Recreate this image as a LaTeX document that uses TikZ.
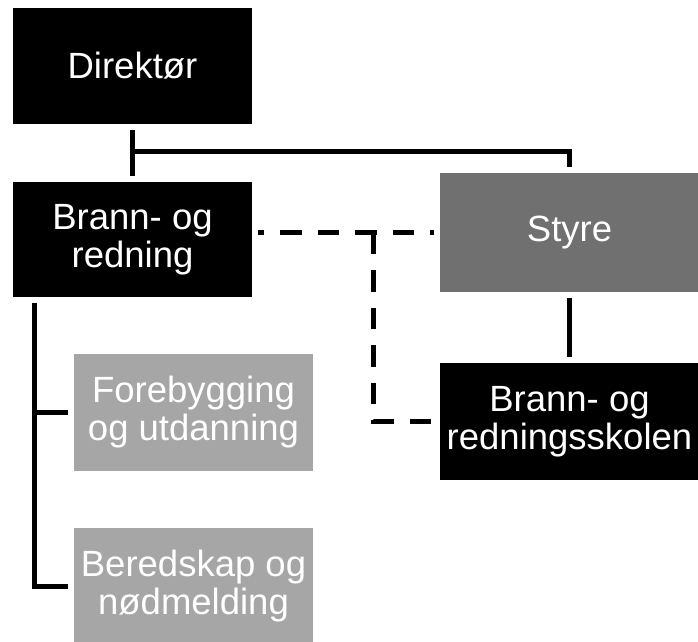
\documentclass[tikz,border=0pt]{standalone}
\usepackage{fontspec}
\setmainfont{Liberation Sans}
\usetikzlibrary{calc}
\definecolor{darkgraybox}{RGB}{112,112,112}
\definecolor{lightgraybox}{RGB}{166,166,166}
\begin{document}
\begin{tikzpicture}[x=1pt,y=-1pt,
  box/.style={rectangle, inner sep=0pt, outer sep=6pt, text=white, align=center,
    font=\fontsize{36.5}{38}\selectfont},
  blackbox/.style={box, fill=black},
  midbox/.style={box, fill=darkgraybox},
  lightbox/.style={box, fill=lightgraybox},
  conn/.style={line width=5pt, black},
  dconn/.style={conn, dash pattern=on 21.5pt off 16pt}
]
\useasboundingbox (0,0) rectangle (698,641);
\fill[white] (0,0) rectangle (698,641);

\node[blackbox, minimum width=239pt, minimum height=116pt] (dir) at (132.5,66) {Direktør};
\node[blackbox, minimum width=239pt, minimum height=115pt] (brann) at (132.5,239.5) {Brann- og\\redning};
\node[midbox, minimum width=259pt, minimum height=119pt] (styre) at (569.5,232.5) {Styre};
\node[blackbox, minimum width=259pt, minimum height=117pt] (school) at (569.5,421.5) {Brann- og\\redningsskolen};
\node[lightbox, minimum width=239pt, minimum height=117pt] (fore) at (193.5,412.5) {Forebygging\\og utdanning};
\node[lightbox, minimum width=239pt, minimum height=117pt] (bered) at (193.5,586.5) {Beredskap og\\nødmelding};

\draw[conn] (dir.south) -- (brann.north);
\draw[conn] ($(dir.south)!0.47!(brann.north)$) -| (styre.north);
\draw[conn] (styre.south) -- (school.north);
\draw[conn] ([xshift=27.5pt]brann.south west) |- (fore.west);
\draw[conn] ([xshift=27.5pt]brann.south west) |- (bered.west);

\draw[dconn, dash phase=15.5pt] (brann.east |- styre.west) -- (styre.west);
\draw[dconn] ([xshift=-60.5pt]styre.west) |- (school.west);
\end{tikzpicture}
\end{document}
